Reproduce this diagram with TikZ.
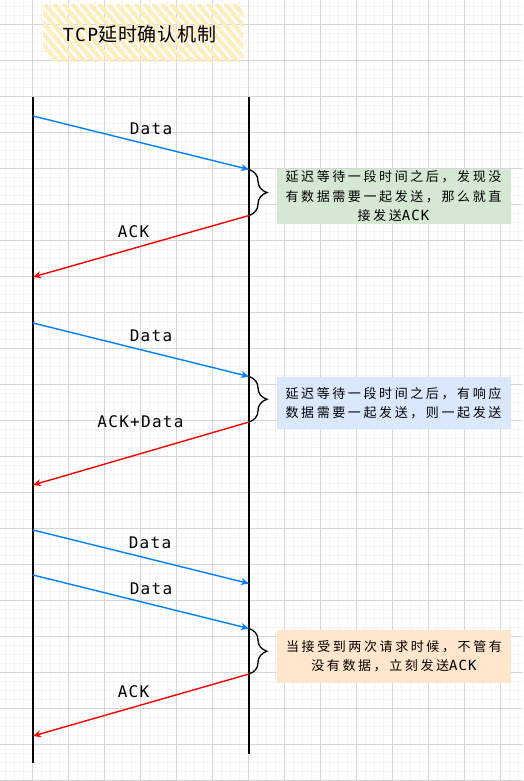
\documentclass[tikz,border=0pt]{standalone}
\usepackage{fontspec}
\usetikzlibrary{arrows.meta,decorations.pathreplacing}
\newfontfamily\cjkf[LetterSpace=20]{Noto Sans CJK SC}
\newfontfamily\latf[LetterSpace=8]{DejaVu Sans Mono}
\newfontfamily\titlecjk[LetterSpace=4]{Noto Sans CJK SC}
\definecolor{minorc}{HTML}{F4F4F4}
\definecolor{majorc}{HTML}{D6D6D6}
\definecolor{bluearr}{HTML}{007FFF}
\definecolor{redarr}{HTML}{FF0000}
\definecolor{greenbox}{HTML}{D5E8D4}
\definecolor{bluebox}{HTML}{DAE8FC}
\definecolor{orangebox}{HTML}{FFE6CC}
\definecolor{hatch}{HTML}{FFEDBB}
\tikzset{
  minorg/.style={draw=minorc, line width=1.2pt},
  majorg/.style={draw=majorc, line width=0.9pt},
  life/.style={draw=black, line width=2.8pt},
  sendarr/.style={draw=bluearr, line width=1.4pt, -{Stealth[length=8pt,width=7pt]}},
  backarr/.style={draw=redarr, line width=1.4pt, -{Stealth[length=8pt,width=7pt]}},
  lbl/.style={font=\latf\fontsize{16pt}{18pt}\selectfont, inner sep=0pt},
  notebox/.style={minimum width=234pt, align=center, inner sep=0pt, font=\cjkf\fontsize{13pt}{19.5pt}\selectfont},
  bracestyle/.style={draw=black, line width=1.3pt, decorate, decoration={brace, amplitude=18pt}},
}
\begin{document}
\begin{tikzpicture}[x=1pt,y=-1pt]
\useasboundingbox (0,0) rectangle (523,781);
\fill[white] (0,0) rectangle (523,781);
% grid
\foreach \k in {-3,...,54} \draw[minorg] ({32.3+9*\k},0) -- ({32.3+9*\k},781);
\foreach \k in {-2,...,84} \draw[minorg] (0,{24.3+9*\k}) -- (523,{24.3+9*\k});
\foreach \k in {0,...,13} \draw[majorg] ({32.3+36*\k},0) -- ({32.3+36*\k},781);
\foreach \k in {0,...,21} \draw[majorg] (0,{24.3+36*\k}) -- (523,{24.3+36*\k});
% title
\begin{scope}
\clip (43,5) rectangle (243,62);
\foreach \k in {0,...,30} \draw[hatch, line width=4pt, line cap=round] ({10+9*\k},5) -- ({10+9*\k+48},62);
\end{scope}
\node (title) at (139.5,34) {\latf\fontsize{18pt}{20pt}\selectfont TCP\titlecjk\fontsize{19pt}{22pt}\selectfont 延时确认机制};
% lifelines
\coordinate (L1) at (33,97);
\coordinate (L2) at (33,763);
\coordinate (R1) at (249,97);
\coordinate (R2) at (249,754);
\draw[life] (L1) -- (L2);
\draw[life] (R1) -- (R2);
% endpoints
\coordinate (a1s) at (33,116);   \coordinate (a1e) at (249,169.5);
\coordinate (b1s) at (249,215.5);\coordinate (b1e) at (33,277);
\coordinate (a2s) at (33,323);   \coordinate (a2e) at (249,376.5);
\coordinate (b2s) at (249,422);  \coordinate (b2e) at (33,485);
\coordinate (a3s) at (33,530);   \coordinate (a3e) at (249,583.5);
\coordinate (a4s) at (33,575);   \coordinate (a4e) at (249,628.5);
\coordinate (b3s) at (249,674);  \coordinate (b3e) at (33,736);
% arrows
\draw[sendarr] (a1s) -- (a1e);
\draw[backarr] (b1s) -- (b1e);
\draw[sendarr] (a2s) -- (a2e);
\draw[backarr] (b2s) -- (b2e);
\draw[sendarr] (a3s) -- (a3e);
\draw[sendarr] (a4s) -- (a4e);
\draw[backarr] (b3s) -- (b3e);
% labels
\node[lbl] (l1) at (151,128.5) {Data};
\node[lbl] (l2) at (133.5,232) {ACK};
\node[lbl] (l3) at (151,336) {Data};
\node[lbl] (l4) at (140.5,422) {ACK+Data};
\node[lbl] (l5) at (150,543) {Data};
\node[lbl] (l6) at (151,588.5) {Data};
\node[lbl] (l7) at (133.5,692) {ACK};
% braces
\draw[bracestyle] (a1e) -- (b1s);
\draw[bracestyle] (a2e) -- (b2s);
\draw[bracestyle] (a4e) -- (b3s);
% notes
\node[notebox, fill=greenbox, minimum height=55pt] (n1) at (393.5,196.5)
  {延迟等待一段时间之后，发现没\\有数据需要一起发送，那么就直\\接发送{\latf\fontsize{14pt}{19.5pt}\selectfont ACK}};
\node[notebox, fill=bluebox, minimum height=52pt] (n2) at (393.5,403.3)
  {延迟等待一段时间之后，有响应\\数据需要一起发送，则一起发送};
\node[notebox, fill=orangebox, minimum height=53pt] (n3) at (394,656)
  {当接受到两次请求时候，不管有\\没有数据，立刻发送{\latf\fontsize{14pt}{19.5pt}\selectfont ACK}};
\end{tikzpicture}
\end{document}
